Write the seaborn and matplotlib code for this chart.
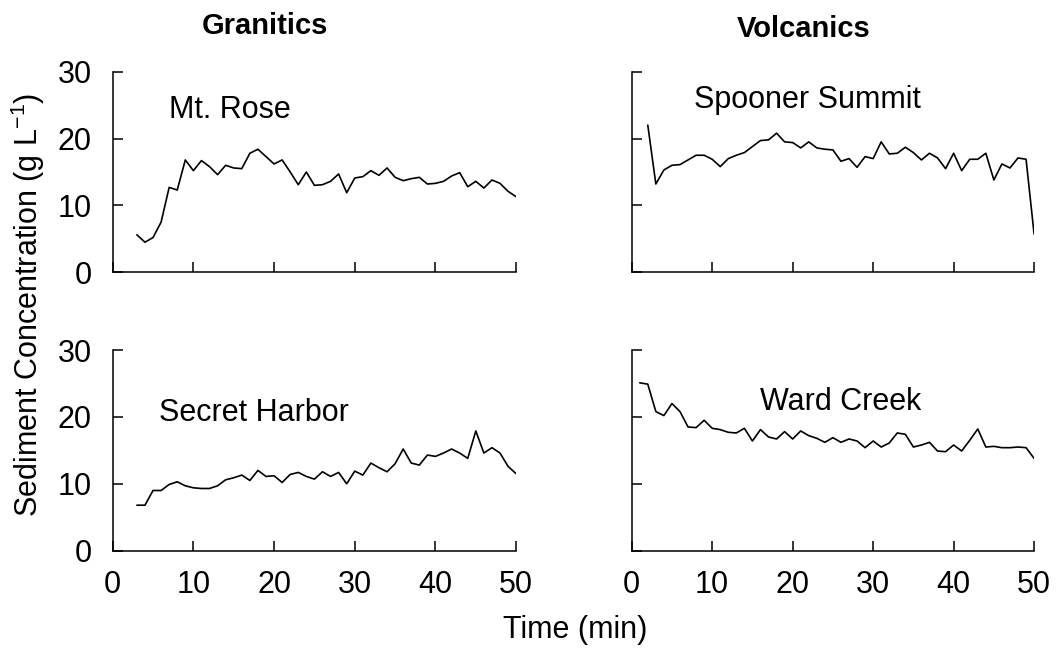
import numpy as np
import pandas as pd
import matplotlib
matplotlib.use("Agg")
import matplotlib.pyplot as plt
import seaborn as sns

# Time (min) for each site
t_rose = list(range(3, 51))
t_spooner = list(range(2, 51))
t_secret = list(range(3, 51))
t_ward = list(range(1, 51))

# sediment concentration (g/L)
mt_rose = [5.6, 4.5, 5.2, 7.5, 12.7, 12.3, 16.8, 15.2, 16.7, 15.8, 14.6, 16.0,
           15.6, 15.5, 17.8, 18.4, 17.3, 16.2, 16.8, 15.0, 13.1, 15.0, 13.0, 13.1,
           13.6, 14.7, 11.9, 14.1, 14.3, 15.2, 14.5, 15.6, 14.2, 13.7, 14.0, 14.2,
           13.2, 13.3, 13.6, 14.4, 14.9, 12.8, 13.6, 12.6, 13.8, 13.3, 12.1, 11.3]

spooner = [22.0, 13.2, 15.3, 16.0, 16.1, 16.8, 17.5, 17.5, 16.9, 15.8, 17.0, 17.5,
           17.9, 18.8, 19.7, 19.8, 20.8, 19.5, 19.4, 18.6, 19.5, 18.6, 18.4, 18.3,
           16.6, 17.0, 15.7, 17.3, 17.0, 19.5, 17.7, 17.8, 18.7, 17.9, 16.8, 17.8,
           17.1, 15.5, 17.8, 15.2, 16.9, 16.9, 17.8, 13.8, 16.2, 15.6, 17.1, 16.9, 5.7]

secret = [6.8, 6.8, 9.0, 9.0, 9.9, 10.3, 9.7, 9.4, 9.3, 9.3, 9.7, 10.6,
          10.9, 11.3, 10.5, 12.0, 11.1, 11.2, 10.2, 11.4, 11.7, 11.1, 10.7, 11.8,
          11.1, 11.7, 10.0, 11.9, 11.3, 13.1, 12.4, 11.8, 13.0, 15.2, 13.1, 12.8,
          14.3, 14.1, 14.6, 15.2, 14.6, 13.8, 17.9, 14.6, 15.4, 14.6, 12.6, 11.5]

ward = [25.1, 24.9, 20.8, 20.2, 22.0, 20.8, 18.5, 18.4, 19.5, 18.3, 18.1, 17.7,
        17.6, 18.3, 16.4, 18.1, 17.0, 16.7, 17.8, 16.7, 17.9, 17.2, 16.8, 16.2,
        16.9, 16.2, 16.7, 16.4, 15.4, 16.4, 15.5, 16.1, 17.6, 17.4, 15.5, 15.8,
        16.2, 14.9, 14.8, 15.8, 14.9, 16.5, 18.2, 15.5, 15.6, 15.4, 15.4, 15.5,
        15.4, 13.8]

sns.set_style("ticks")
plt.rcParams['font.family'] = ['Liberation Sans', 'DejaVu Sans']
plt.rcParams['text.color'] = 'black'
plt.rcParams['xtick.color'] = 'black'
plt.rcParams['ytick.color'] = 'black'
plt.rcParams['axes.labelcolor'] = 'black'

fig = plt.figure(figsize=(10.59, 6.48), dpi=100)
ax_tl = fig.add_axes([0.1064, 0.5798, 0.381, 0.3096])
ax_tr = fig.add_axes([0.5965, 0.5798, 0.380, 0.3096])
ax_bl = fig.add_axes([0.1064, 0.1502, 0.381, 0.3096])
ax_br = fig.add_axes([0.5965, 0.1502, 0.380, 0.3096])

panels = [
    (ax_tl, t_rose, mt_rose, "Mt. Rose", 7.0, 24.3),
    (ax_tr, t_spooner, spooner, "Spooner Summit", 7.8, 25.8),
    (ax_bl, t_secret, secret, "Secret Harbor", 5.8, 20.6),
    (ax_br, t_ward, ward, "Ward Creek", 16.0, 22.2),
]

for ax, t, c, name, lx, ly in panels:
    df = pd.DataFrame({"t": t, "c": c})
    sns.lineplot(data=df, x="t", y="c", ax=ax, color="black", linewidth=1.2)
    ax.set_xlim(0, 50)
    ax.set_ylim(0, 30)
    ax.set_xticks([0, 10, 20, 30, 40, 50])
    ax.set_yticks([0, 10, 20, 30])
    ax.set_xlabel("")
    ax.set_ylabel("")
    ax.spines["top"].set_visible(False)
    ax.spines["right"].set_visible(False)
    for s in ["left", "bottom"]:
        ax.spines[s].set_linewidth(1.1)
        ax.spines[s].set_color("black")
    ax.tick_params(direction="in", length=7, width=1.1, labelsize=22, color="black")
    ax.tick_params(axis="y", pad=15)
    ax.tick_params(axis="x", pad=14)
    ax.text(lx, ly, name, fontsize=22, va="center", ha="left")

for ax in [ax_tl, ax_tr]:
    ax.tick_params(axis="x", labelbottom=False)
for ax in [ax_tr, ax_br]:
    ax.tick_params(axis="y", labelleft=False)

fig.text(0.2505, 0.960, "Granitics", fontsize=21, fontweight="bold", ha="center", va="center")
fig.text(0.759, 0.956, "Volcanics", fontsize=21, fontweight="bold", ha="center", va="center")
fig.text(0.026, 0.529, "Sediment Concentration (g L$^{\\mathregular{-1}}$)", fontsize=22,
         rotation=90, ha="center", va="center")
fig.text(0.543, 0.028, "Time (min)", fontsize=22, ha="center", va="center")

plt.savefig("out.png", dpi=100)
